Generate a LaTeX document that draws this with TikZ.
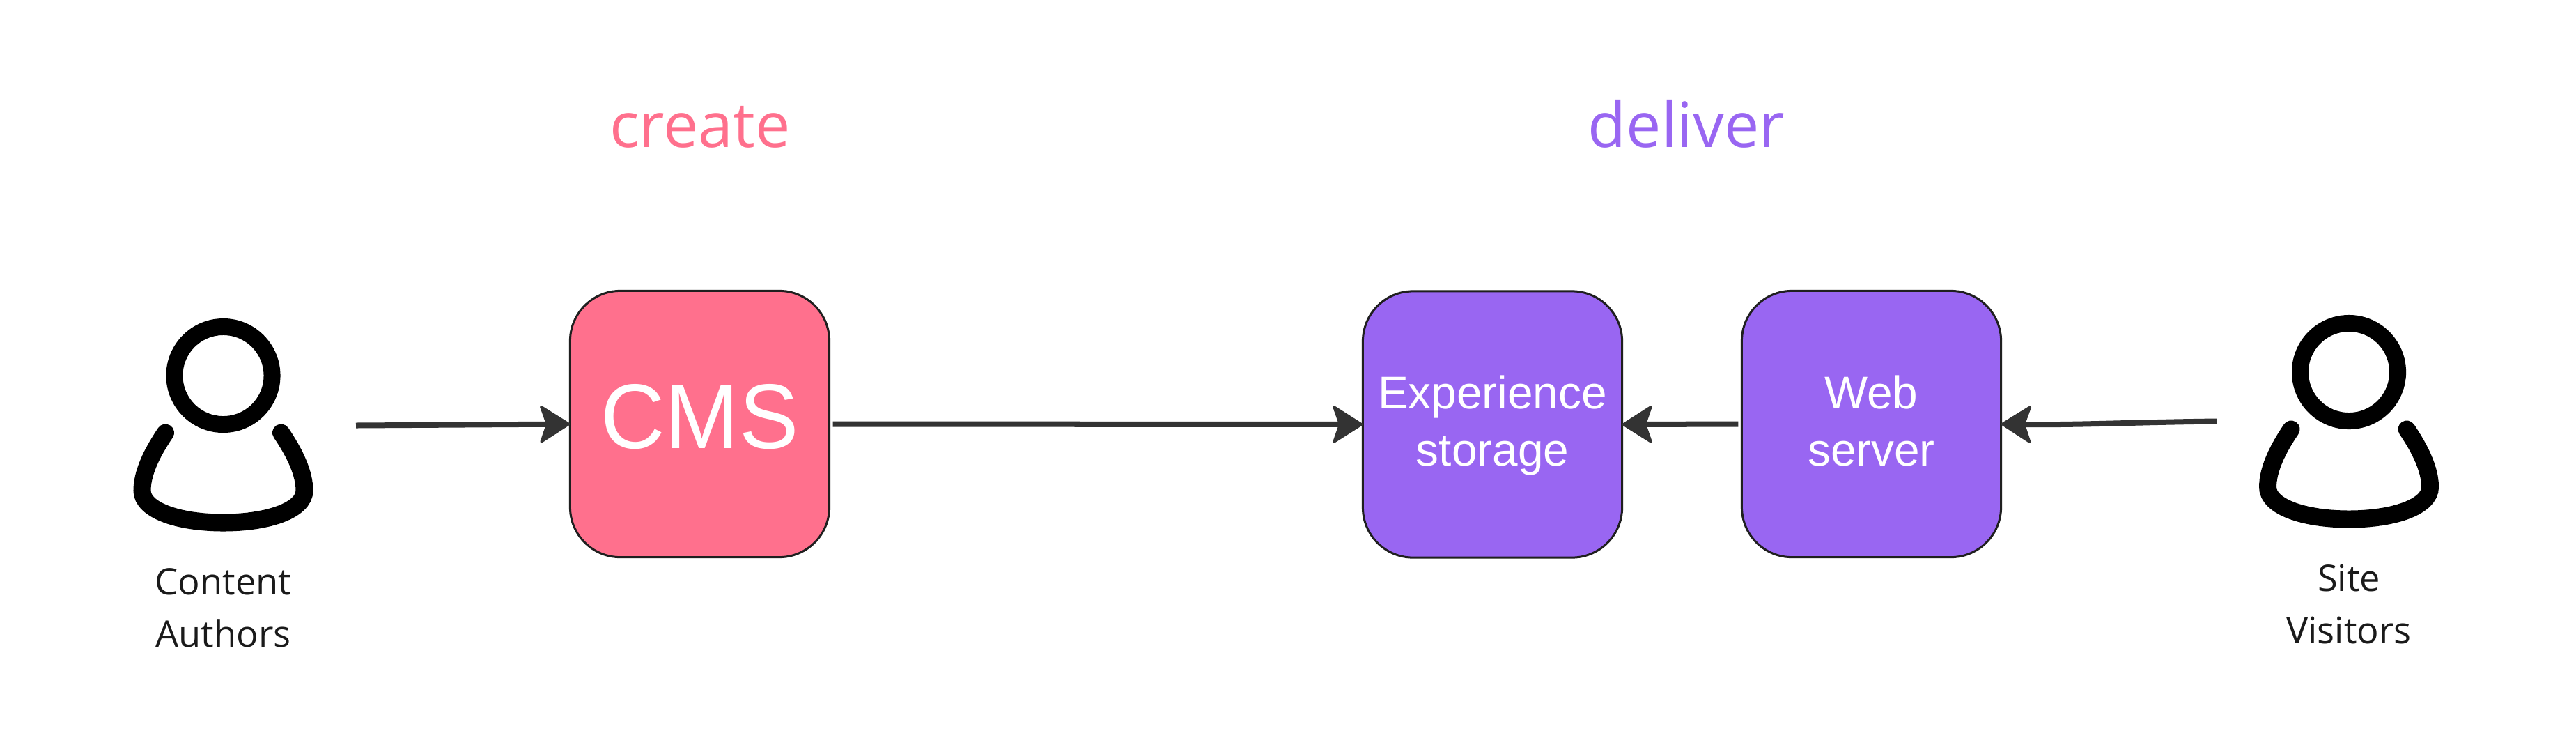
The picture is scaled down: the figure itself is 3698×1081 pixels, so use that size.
\documentclass[tikz,border=0pt]{standalone}
\usepackage{fontspec}
\setmainfont{Open Sans}
\newfontfamily\boxfont[FakeStretch=0.97]{Liberation Sans}
\newfontfamily\smallboxfont{Liberation Sans}
\usetikzlibrary{arrows.meta}
\definecolor{pinkc}{HTML}{FF708D}
\definecolor{purplec}{HTML}{9966F2}
\definecolor{edgec}{HTML}{1F1F1F}
\definecolor{linec}{HTML}{333333}
\definecolor{labelc}{HTML}{1A1A1A}
\tikzset{
  flowbox/.style={draw=edgec,line width=.03cm,rounded corners=.72cm,minimum width=3.72cm,minimum height=3.82cm,inner sep=0pt,outer sep=0pt,text=white,align=center},
  smallbox/.style={flowbox,font=\smallboxfont\fontsize{18.7pt}{23.3pt}\selectfont},
  actorlabel/.style={anchor=base,align=center,inner sep=0pt,text=labelc,font=\fontsize{14.9pt}{21.3pt}\selectfont},
  phase/.style={anchor=base,inner sep=0pt,font=\fontsize{25.5pt}{30pt}\selectfont},
  flow/.style={draw=linec,line width=.08cm,-{Stealth[length=.46cm,width=.58cm,inset=.1cm,round,line width=.035cm]}},
  personpic/.pic={
    \node[draw=black,line width=.24cm,circle,minimum size=1.40cm,inner sep=0pt,outer sep=0pt] (-head) at (0,0) {};
    \draw[black,line width=.25cm,line cap=round]
      (-83,82) .. controls (-104,113) and (-116.5,141) .. (-116.5,165)
      .. controls (-116.5,193) and (-65,211) .. (0,211)
      .. controls (65,211) and (116.5,193) .. (116.5,165)
      .. controls (116.5,141) and (104,113) .. (83,82);
  }
}
\begin{document}
\begin{tikzpicture}[x=.01cm,y=-.01cm]
\useasboundingbox (0,0) rectangle (3698,1081);
\fill[white] (0,0) rectangle (3698,1081);
\pic (authors) at (320.5,539) {personpic};
\pic (visitors) at (3372,534) {personpic};
\node[actorlabel] (authorslabel) at (320.5,928.5) {Content\\Authors};
\node[actorlabel] (visitorslabel) at (3372,923) {Site\\Visitors};
\node[phase,text=pinkc] (create) at (1005,211) {create};
\node[phase,text=purplec] (deliver) at (2421,211) {deliver};
\node[flowbox,fill=pinkc,text height=.69cm,text depth=0cm,font=\boxfont\fontsize{37.5pt}{45pt}\selectfont] (cms) at (1004.5,608.5) {CMS};
\node[smallbox,fill=purplec,text height=1.18cm,text depth=0cm] (exp) at (2142.5,609) {Experience\\storage};
\node[smallbox,fill=purplec,text height=1.19cm,text depth=0cm] (web) at (2686.5,608.5) {Web\\server};
\coordinate (authorsout) at (511,610.5);
\coordinate (visitorsout) at (3182,604.5);
\draw[flow] (authorsout) -- (cms.west);
\draw[flow,shorten <=.05cm] (cms.east) -- (exp.west);
\draw[flow,shorten <=.05cm] (web.west) -- (exp.east);
\draw[flow] (visitorsout) .. controls (3060,606) and (2980,610) .. (web.east);
\end{tikzpicture}
\end{document}
